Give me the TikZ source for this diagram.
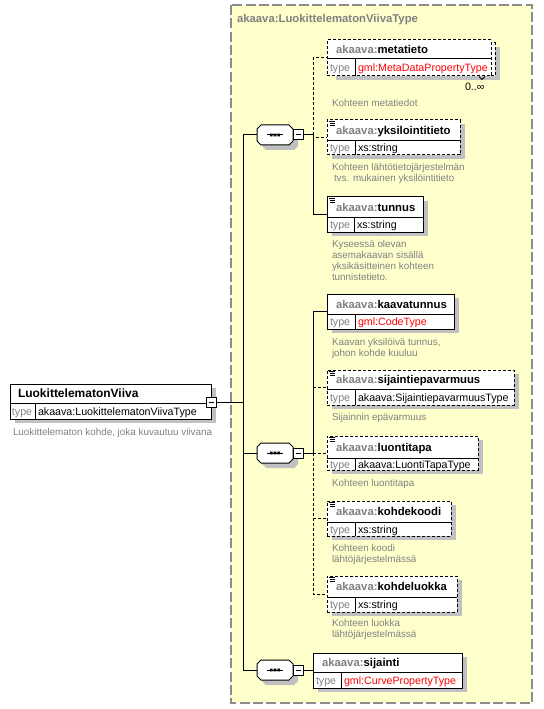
\documentclass[tikz,border=0pt]{standalone}
\usepackage{fontspec}
\setmainfont{Liberation Sans}
\usetikzlibrary{shadows}
\definecolor{grpfill}{HTML}{FFFFCC}
\definecolor{grpline}{HTML}{8C8C8C}
\definecolor{shd}{HTML}{C0C0C0}
\definecolor{pfx}{HTML}{808080}
\definecolor{dsc}{HTML}{808080}
\definecolor{tred}{HTML}{FF0000}
\newcommand{\akpf}{\textcolor{pfx}{akaava:}}
\newcommand{\xsdelem}[8]{%
  \node[#2, minimum width={(#5-#3)*0.75pt}, minimum height={(#7-#4)*0.75pt}] (#1) at (#3,#4) {};
  \draw[px] (#3,#6) -- (#5,#6) (#8,#6) -- (#8,#7);
}
\tikzset{
  px/.style={line width=0.75pt, draw=black},
  optl/.style={px, dash pattern=on 2.25pt off 1.5pt},
  elbase/.style={draw=black, fill=white, line width=0.75pt, inner sep=0pt, outer sep=0pt, anchor=north west},
  elsolid/.style={elbase, drop shadow={shadow xshift=3.75pt, shadow yshift=-3pt, fill=shd, opacity=1}},
  elopt/.style={elsolid, dash pattern=on 2.25pt off 1.5pt},
  eloptns/.style={elbase, dash pattern=on 2.25pt off 1.5pt},
  sqb/.style={draw=black, fill=white, line width=0.75pt, inner sep=0pt, outer sep=0pt, minimum size=7.5pt},
  seqnode/.style={inner sep=0pt, outer sep=0pt, minimum width=27pt, minimum height=15pt},
  nm/.style={inner sep=0pt, outer sep=0pt, anchor=base west, font=\fontsize{8.5pt}{10pt}\selectfont\bfseries},
  rootnm/.style={nm, font=\fontsize{9pt}{10pt}\selectfont\bfseries},
  gt/.style={nm, text=pfx},
  tl/.style={inner sep=0pt, outer sep=0pt, anchor=base west, font=\fontsize{8pt}{10pt}\selectfont, text=pfx},
  tv/.style={inner sep=0pt, outer sep=0pt, anchor=base west, font=\fontsize{8pt}{10pt}\selectfont},
  tvr/.style={tv, text=tred},
  ds/.style={inner sep=0pt, outer sep=0pt, anchor=north west, align=left, font=\fontsize{7.4pt}{8.2pt}\selectfont, text=dsc},
  seqsym/.pic={
    \fill[shd] (-9,-5) -- (19,-5) -- (23,-1) -- (23,11) -- (19,15) -- (-9,15) -- (-13,11) -- (-13,-1) -- cycle;
    \draw[px, fill=white] (-14,-10) -- (14,-10) -- (18,-6) -- (18,6) -- (14,10) -- (-14,10) -- (-18,6) -- (-18,-6) -- cycle;
    \draw[px] (-8,0) -- (8,0);
    \fill (-5,-1.3) rectangle (-2.4,1.3) (-1.3,-1.3) rectangle (1.3,1.3) (2.4,-1.3) rectangle (5,1.3);
    \node[seqnode] (-oct) at (0,0) {};
    \node[sqb] (-sq) at (23,0) {};
    \draw[px] (20.5,0) -- (25.5,0);
  },
  docicon/.pic={
    \fill[white] (1.5,0.8) rectangle (8.5,6.2);
    \draw[line width=0.75pt] (1.8,1.6) -- (8,1.6) (2.5,3.6) -- (8,3.6) (2.5,5.6) -- (8,5.6);
  }
}
\begin{document}
\begin{tikzpicture}[x=0.75pt, y=-0.75pt]
\useasboundingbox (0,0) rectangle (543,709);
% group box
\draw[draw=grpline, fill=grpfill, line width=1.1pt, dash pattern=on 7.5pt off 2.5pt] (231,5) rectangle (532,703);
\node[gt] (grptitle) at (237,23) {akaava:LuokittelematonViivaType};

% root element
\xsdelem{root}{elsolid}{10}{384}{211}{403}{419}{35}
\node[rootnm] (root-n) at (18,397.7) {LuokittelematonViiva};
\node[tl] (root-t) at (12,415) {type};
\node[tv] (root-v) at (38,415) {akaava:LuokittelematonViivaType};
\node[ds] (root-d) at (13,428.5) {Luokittelematon kohde, joka kuvautuu viivana};
\node[sqb] (rootsq) at (211,402) {};
\draw[px] (208.5,402) -- (213.5,402);

% sequences
\pic (seq1) at (275,135) {seqsym};
\pic (seq2) at (275,453) {seqsym};
\pic (seq3) at (275,670) {seqsym};

% metatieto (0..inf)
\node[elopt, minimum width={164*0.75pt}, minimum height={33*0.75pt}] (metaback) at (331,43) {};
\xsdelem{meta}{eloptns}{327}{40}{491}{59}{76}{355}
\node[nm] (meta-n) at (336,53.5) {\akpf metatieto};
\node[tl] (meta-t) at (330,71.5) {type};
\node[tvr] (meta-v) at (358,71.5) {gml:MetaDataPropertyType};
\draw[line width=0.6pt] (479,76.5) -- (482,79.5) -- (485,76.5);
\node[tv] (meta-m) at (465,91) {0..∞};
\node[ds] (meta-d) at (332,99.5) {Kohteen metatiedot};

% yksilointitieto
\xsdelem{yksi}{elopt}{327}{120}{460}{141}{155}{355}
\pic at (327,120) {docicon};
\node[nm] (yksi-n) at (336,134.5) {\akpf yksilointitieto};
\node[tl] (yksi-t) at (330,152) {type};
\node[tv] (yksi-v) at (358,152) {xs:string};
\node[ds] (yksi-d) at (332,163.5) {Kohteen lähtötietojärjestelmän\\\hspace*{1.5pt}tvs. mukainen yksilöintitieto};

% tunnus
\xsdelem{tunnus}{elsolid}{327}{197}{423}{217}{232}{354}
\pic at (327,197) {docicon};
\node[nm] (tunnus-n) at (336,211) {\akpf tunnus};
\node[tl] (tunnus-t) at (330,228.5) {type};
\node[tv] (tunnus-v) at (357,228.5) {xs:string};
\node[ds] (tunnus-d) at (332,240.5) {Kyseessä olevan\\asemakaavan sisällä\\yksikäsitteinen kohteen\\tunnistetieto.};

% kaavatunnus
\xsdelem{kaava}{elsolid}{327}{294}{454}{314}{329}{355}
\node[nm] (kaava-n) at (336,308) {\akpf kaavatunnus};
\node[tl] (kaava-t) at (330,325.5) {type};
\node[tvr] (kaava-v) at (358,325.5) {gml:CodeType};
\node[ds] (kaava-d) at (332,338) {Kaavan yksilöivä tunnus,\\johon kohde kuuluu};

% sijaintiepavarmuus
\xsdelem{sijep}{elopt}{327}{370}{514}{389}{405}{355}
\pic at (327,370) {docicon};
\node[nm] (sijep-n) at (336,383.5) {\akpf sijaintiepavarmuus};
\node[tl] (sijep-t) at (330,401) {type};
\node[tv] (sijep-v) at (358,401) {akaava:SijaintiepavarmuusType};
\node[ds] (sijep-d) at (332,413.5) {Sijainnin epävarmuus};

% luontitapa
\xsdelem{luont}{elopt}{327}{436}{478}{458}{470}{355}
\pic at (327,436) {docicon};
\node[nm] (luont-n) at (336,451) {\akpf luontitapa};
\node[tl] (luont-t) at (330,468) {type};
\node[tv] (luont-v) at (358,468) {akaava:LuontiTapaType};
\node[ds] (luont-d) at (332,479.5) {Kohteen luontitapa};

% kohdekoodi
\xsdelem{kohdek}{elopt}{327}{501}{451}{522}{536}{355}
\pic at (327,501) {docicon};
\node[nm] (kohdek-n) at (336,515.5) {\akpf kohdekoodi};
\node[tl] (kohdek-t) at (330,533) {type};
\node[tv] (kohdek-v) at (358,533) {xs:string};
\node[ds] (kohdek-d) at (332,544.5) {Kohteen koodi\\lähtöjärjestelmässä};

% kohdeluokka
\xsdelem{kohdel}{elopt}{327}{576}{457}{597}{612}{355}
\pic at (327,576) {docicon};
\node[nm] (kohdel-n) at (336,590.5) {\akpf kohdeluokka};
\node[tl] (kohdel-t) at (330,608.5) {type};
\node[tv] (kohdel-v) at (358,608.5) {xs:string};
\node[ds] (kohdel-d) at (332,619.5) {Kohteen luokka\\lähtöjärjestelmässä};

% sijainti
\xsdelem{sij}{elsolid}{313}{653}{462}{672}{688}{341}
\node[nm] (sij-n) at (322,666.5) {\akpf sijainti};
\node[tl] (sij-t) at (316,684) {type};
\node[tvr] (sij-v) at (344,684) {gml:CurvePropertyType};

% connectors
\coordinate (mainj) at (243,402);
\draw[px] (rootsq.east) -- (mainj);
\draw[px] (mainj) |- (seq1-oct.west);
\draw[px] (mainj) |- (seq2-oct.west);
\draw[px] (mainj) |- (seq3-oct.west);
\coordinate (j1) at (313,135);
\draw[px] (seq1-sq.east) -- (j1);
\draw[optl] (j1) |- (meta.west);
\draw[optl] (j1) |- (yksi.west);
\draw[px] (j1) |- (tunnus.west);
\coordinate (j2) at (313,453);
\draw[px] (seq2-sq.east) -- (j2);
\draw[px] (j2) |- (kaava.west);
\draw[optl] (j2) |- (sijep.west);
\draw[optl] (j2) |- (luont.west);
\draw[optl] (j2) |- (kohdek.west);
\draw[optl] (j2) |- (kohdel.west);
\draw[px] (seq3-sq.east) -- (seq3-sq.east -| sij.west);
\end{tikzpicture}
\end{document}
